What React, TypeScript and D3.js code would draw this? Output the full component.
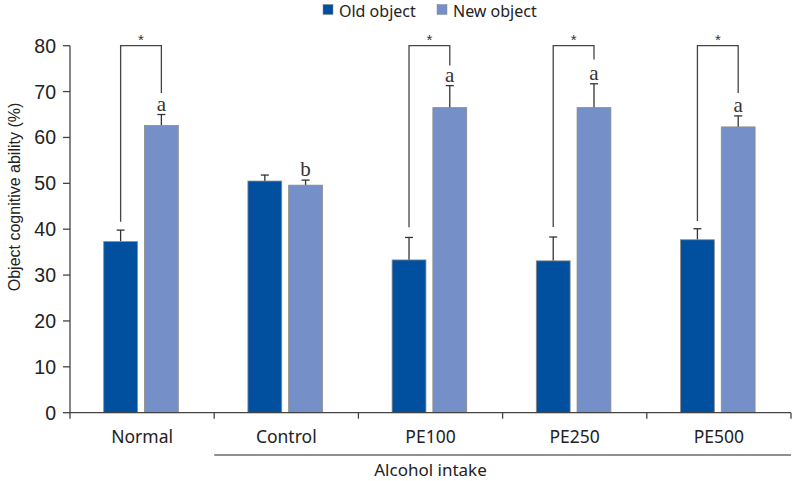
import { useEffect, useRef } from "react";
import * as d3 from "d3";

const categories = ["Normal", "Control", "PE100", "PE250", "PE500"];
const seriesNames = ["Old object", "New object"];
const oldValues = [37.3, 50.5, 33.3, 33.1, 37.7];
const oldErrors = [2.5, 1.3, 4.9, 5.2, 2.4];
const newValues = [62.6, 49.6, 66.5, 66.5, 62.3];
const newErrors = [2.4, 1.1, 4.8, 5.2, 2.4];
const letters = ["a", "b", "a", "a", "a"];
const yTicks = [0, 10, 20, 30, 40, 50, 60, 70, 80];

// significance brackets: group index, top, left end, right end
const bracketGroups = [0, 2, 3, 4];
const bracketTop = [80, 80, 80, 80];
const bracketLeftEnd = [41.6, 40.4, 40.5, 41.8];
const bracketRightEnd = [69.7, 75.7, 77.0, 69.7];

const COLORS = ["#00509f", "#7590c8"];

export default function App() {
  const svgRef = useRef<SVGSVGElement>(null);

  useEffect(() => {
    if (!svgRef.current) return;
    const W = 793, H = 481;
    const svg = d3.select(svgRef.current);
    svg.selectAll("*").remove();

    const x0 = d3.scaleBand().domain(categories).range([70, 791]).paddingInner(0).paddingOuter(0);
    const x1 = d3.scaleBand().domain(seriesNames).range([33.7, 108.3]).paddingInner(0.17);
    const y = d3.scaleLinear().domain([0, 80]).range([412.7, 45.7]);

    const tickFont = "'Liberation Sans', Arial, sans-serif";
    const labelFont = "'Noto Sans', 'Open Sans', sans-serif";

    // ── bars ───────────────────────────────
    const series = [
      { name: seriesNames[0], values: oldValues, errs: oldErrors, color: COLORS[0] },
      { name: seriesNames[1], values: newValues, errs: newErrors, color: COLORS[1] },
    ];

    series.forEach((s) => {
      categories.forEach((c, i) => {
        const bx = x0(c)! + x1(s.name)!;
        const bw = x1.bandwidth();
        const cx = bx + bw / 2;
        const top = y(s.values[i]);
        const errTop = y(s.values[i] + s.errs[i]);
        // error bar
        svg.append("line")
          .attr("x1", cx).attr("x2", cx).attr("y1", top).attr("y2", errTop)
          .attr("stroke", "#333").attr("stroke-width", 1.3);
        svg.append("line")
          .attr("x1", cx - 4).attr("x2", cx + 4).attr("y1", errTop).attr("y2", errTop)
          .attr("stroke", "#333").attr("stroke-width", 1.3);
        svg.append("rect")
          .attr("x", bx).attr("y", top)
          .attr("width", bw).attr("height", y(0) - top)
          .attr("fill", s.color)
          .attr("stroke", "#8a8a8a").attr("stroke-width", 0.8);
      });
    });

    // letters above new bars
    categories.forEach((c, i) => {
      const cx = x0(c)! + x1(seriesNames[1])! + x1.bandwidth() / 2;
      svg.append("text")
        .attr("x", cx).attr("y", y(newValues[i] + newErrors[i]) - 4)
        .attr("text-anchor", "middle")
        .attr("font-family", "'Liberation Serif', serif")
        .attr("font-size", 21).attr("fill", "#333")
        .text(letters[i]);
    });

    // ── brackets ───────────────────────────
    bracketGroups.forEach((gi, k) => {
      const c = categories[gi];
      const lx = x0(c)! + x1(seriesNames[0])! + x1.bandwidth() / 2;
      const rx = x0(c)! + x1(seriesNames[1])! + x1.bandwidth() / 2;
      const path = d3.path();
      path.moveTo(lx, y(bracketLeftEnd[k]));
      path.lineTo(lx, y(bracketTop[k]));
      path.lineTo(rx, y(bracketTop[k]));
      path.lineTo(rx, y(bracketRightEnd[k]));
      svg.append("path").attr("d", path.toString())
        .attr("fill", "none").attr("stroke", "#444").attr("stroke-width", 1.3);
      svg.append("text")
        .attr("x", (lx + rx) / 2).attr("y", y(bracketTop[k]) - 1)
        .attr("text-anchor", "middle")
        .attr("font-family", tickFont).attr("font-size", 15).attr("fill", "#333")
        .text("*");
    });

    // ── axes ───────────────────────────────
    const axisColor = "#444";
    svg.append("line")
      .attr("x1", 70).attr("x2", 70).attr("y1", y(80)).attr("y2", y(0))
      .attr("stroke", axisColor).attr("stroke-width", 1.3);
    yTicks.forEach((t) => {
      svg.append("line")
        .attr("x1", 63).attr("x2", 70).attr("y1", y(t)).attr("y2", y(t))
        .attr("stroke", axisColor).attr("stroke-width", 1.3);
      svg.append("text")
        .attr("x", 56).attr("y", y(t))
        .attr("dy", "0.36em")
        .attr("text-anchor", "end")
        .attr("font-family", tickFont).attr("font-size", 19.5).attr("fill", "#222")
        .text(t);
    });

    svg.append("line")
      .attr("x1", 70).attr("x2", 791).attr("y1", y(0)).attr("y2", y(0))
      .attr("stroke", axisColor).attr("stroke-width", 1.3);
    const bounds = [...categories.map((c) => x0(c)!), 791];
    bounds.forEach((bx) => {
      svg.append("line")
        .attr("x1", bx).attr("x2", bx).attr("y1", y(0)).attr("y2", y(0) + 6)
        .attr("stroke", axisColor).attr("stroke-width", 1.3);
    });
    categories.forEach((c) => {
      svg.append("text")
        .attr("x", x0(c)! + x0.bandwidth() / 2).attr("y", 437)
        .attr("dy", "0.36em")
        .attr("text-anchor", "middle")
        .attr("font-family", labelFont).attr("font-size", 17.5).attr("fill", "#222")
        .text(c);
    });

    // alcohol intake group line
    svg.append("line")
      .attr("x1", x0("Control")!).attr("x2", 791).attr("y1", 455).attr("y2", 455)
      .attr("stroke", "#222").attr("stroke-width", 1.2);
    svg.append("text")
      .attr("x", x0("PE100")! + x0.bandwidth() / 2).attr("y", 470)
      .attr("dy", "0.36em")
      .attr("text-anchor", "middle")
      .attr("font-family", labelFont).attr("font-size", 17).attr("fill", "#222")
      .text("Alcohol intake");

    // y label
    svg.append("text")
      .attr("transform", `translate(14, 197) rotate(-90)`)
      .attr("text-anchor", "middle")
      .attr("dy", "0.36em")
      .attr("font-family", tickFont).attr("font-size", 16).attr("fill", "#222")
      .text("Object cognitive ability (%)");

    // ── legend ─────────────────────────────
    const legendX = [323, 437];
    seriesNames.forEach((n, i) => {
      svg.append("rect")
        .attr("x", legendX[i]).attr("y", 4.5).attr("width", 10).attr("height", 10)
        .attr("fill", COLORS[i]).attr("stroke", "#8a8a8a").attr("stroke-width", 0.5);
      svg.append("text")
        .attr("x", legendX[i] + 16).attr("y", 11)
        .attr("dy", "0.36em")
        .attr("font-family", labelFont).attr("font-size", 16).attr("fill", "#222")
        .text(n);
    });

    svg.attr("width", W).attr("height", H);
  }, []);

  return (
    <svg
      ref={svgRef}
      width={793}
      height={481}
      style={{ position: "absolute", left: 0, top: 0, background: "white" }}
    />
  );
}
